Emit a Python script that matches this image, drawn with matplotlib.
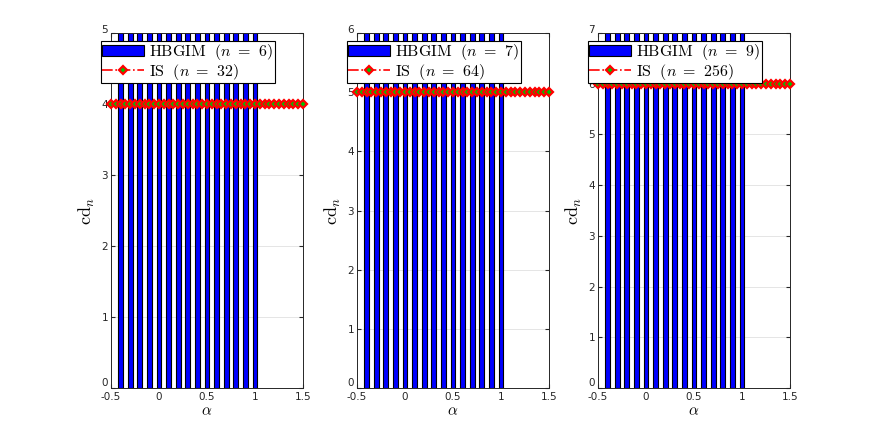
import matplotlib.pyplot as plt
import matplotlib.transforms as mtransforms
import numpy as np

plt.rcParams['mathtext.fontset'] = 'cm'

# data
alpha_bar = [-0.4, -0.3, -0.2, -0.1, 0.0, 0.1, 0.2, 0.3, 0.4, 0.5, 0.6, 0.7, 0.8, 0.9, 1.0]
alpha_is = [round(-0.5 + 0.05 * i, 2) for i in range(41)]
hbgim_n = [6, 7, 9]
is_n = [32, 64, 256]
hbgim_val = [6, 7, 9]          # bars run past the top of each axes
is_val = [4, 5, 6]
ytop = [5, 6, 7]

fig = plt.figure(figsize=(8.72, 4.36), dpi=100)
lefts = [111, 357, 598]
W, H = 872.0, 436.0

for k in range(3):
    ax = fig.add_axes([lefts[k] / W, 48 / H, 192 / W, 355 / H])
    bars = ax.bar(alpha_bar, [hbgim_val[k]] * len(alpha_bar), width=0.05,
                  color='#0000ff', edgecolor='black', linewidth=0.8, zorder=2)
    line, = ax.plot(alpha_is, [is_val[k]] * len(alpha_is), '-.', color='red',
                    marker='D', markersize=3.8, markerfacecolor='#00c000',
                    markeredgecolor='red', markeredgewidth=1.6, linewidth=1.2,
                    zorder=3, clip_on=False)
    ax.set_xlim(-0.5, 1.5)
    ax.set_ylim(0, ytop[k])
    ax.set_xticks([-0.5, 0, 0.5, 1, 1.5])
    ax.set_xticklabels(['-0.5', '0', '0.5', '1', '1.5'])
    ax.set_yticks(range(ytop[k] + 1))
    ax.tick_params(direction='in', labelsize=7.5, length=3, top=True, right=True,
                   colors='#262626')
    ax.tick_params(axis='x', pad=3)
    ax.tick_params(axis='y', pad=2)
    # lift the bottom and top y labels a little, as in the original
    ylabs = ax.get_yticklabels()
    ylabs[0].set_transform(ylabs[0].get_transform() +
                           mtransforms.ScaledTranslation(0, 4 / 72, fig.dpi_scale_trans))
    ylabs[-1].set_transform(ylabs[-1].get_transform() +
                            mtransforms.ScaledTranslation(0, 3 / 72, fig.dpi_scale_trans))
    ax.yaxis.grid(True, color='#e0e0e0', linewidth=0.6)
    ax.set_axisbelow(True)
    for s in ax.spines.values():
        s.set_color('#262626')
        s.set_linewidth(0.7)
    ax.set_xlabel(r'$\alpha$', fontsize=11, labelpad=1)
    ax.set_ylabel(r'$\mathrm{cd}_n$', fontsize=13, labelpad=3)
    leg = ax.legend([bars, line],
                    [r'$\mathrm{HBGIM}\ \ (n\;=\;\,%d)$' % hbgim_n[k],
                     r'$\mathrm{IS}\ \ (n\;=\;\,%d)$' % is_n[k]],
                    loc='upper left', bbox_to_anchor=(-0.052, 0.978), fontsize=11.5,
                    frameon=True, fancybox=False, edgecolor='black', framealpha=1,
                    borderpad=0.08, labelspacing=0.0, handlelength=2.6,
                    handleheight=0.75, handletextpad=0.35, borderaxespad=0)
    leg.get_frame().set_linewidth(0.8)

fig.savefig('out.png', dpi=100)
